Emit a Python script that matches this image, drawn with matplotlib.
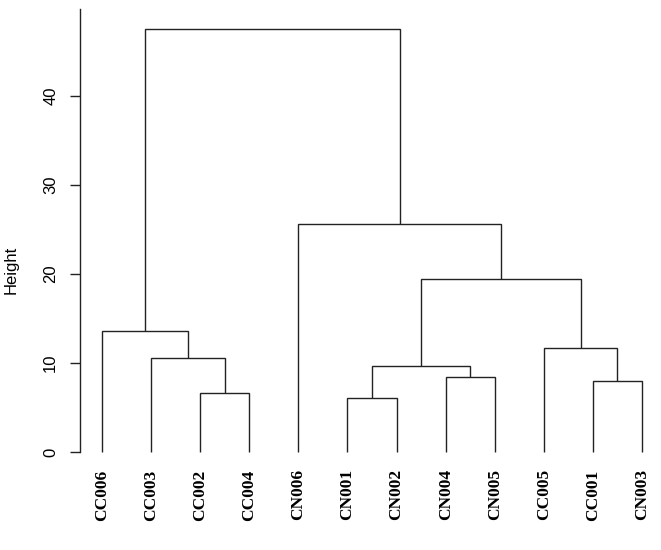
import matplotlib
matplotlib.use("Agg")
import matplotlib.pyplot as plt

# leaf labels in display order
leaves = ["CC006", "CC003", "CC002", "CC004", "CN006", "CN001",
          "CN002", "CN004", "CN005", "CC005", "CC001", "CN003"]

# merges: negative = leaf index (1-based), positive = earlier merge (1-based)
merge_left = [-3, -6, -8, -11, -2, 2, -10, -1, 6, -5, 8]
merge_right = [-4, -7, -9, -12, 1, 3, 4, 5, 7, 9, 10]
heights = [6.6, 6.05, 8.45, 8.0, 10.6, 9.65, 11.7, 13.6, 19.4, 25.6, 47.5]

fig = plt.figure(figsize=(6.61, 5.5), dpi=100)
W, H = 661, 550
ax_left, ax_right, ax_bottom, ax_top = 80, 661, 460, 0
ax = fig.add_axes([ax_left / W, 1 - ax_bottom / H,
                   (ax_right - ax_left) / W, (ax_bottom - ax_top) / H])

spacing = 49.09
ax.set_xlim(1 - 22 / spacing, 12 + 19 / spacing)
px_per_unit = 8.91
ax.set_ylim(-8 / px_per_unit, 452 / px_per_unit)

lc = "#222222"
lw = 1.0


def node_pos(ref, centers):
    if ref < 0:
        return float(-ref), 0.0
    return centers[ref - 1]


centers = []
for l, r, h in zip(merge_left, merge_right, heights):
    xl, yl = node_pos(l, centers)
    xr, yr = node_pos(r, centers)
    ax.plot([xl, xl, xr, xr], [yl, h, h, yr], color=lc, lw=lw,
            solid_joinstyle="miter", solid_capstyle="butt")
    centers.append(((xl + xr) / 2, h))

# leaf labels
for i, name in enumerate(leaves):
    ax.annotate(name, xy=(i + 1, 0), xytext=(0, -12.5),
                textcoords="offset points", rotation=90,
                ha="center", va="top", fontsize=12.5, fontweight="bold",
                family="Liberation Serif", color="black")

# R-style axis
for s in ["top", "right", "bottom"]:
    ax.spines[s].set_visible(False)
ax.spines["left"].set_bounds(0, 49.7)
ax.spines["left"].set_color(lc)
ax.spines["left"].set_linewidth(lw)
ax.set_xticks([])
ax.set_yticks([0, 10, 20, 30, 40])
ax.tick_params(axis="y", direction="out", length=7.2, width=lw, color=lc,
               pad=8.5, labelsize=12)
for t in ax.get_yticklabels():
    t.set_rotation(90)
    t.set_va("center")
    t.set_family("Liberation Sans")
ax.set_ylabel("Height", fontsize=12, family="Liberation Sans", va="center")
ax.yaxis.set_label_coords(-(80 - 11) / (ax_right - ax_left), 1 - 270 / 460)

fig.savefig("out.png", dpi=100)
